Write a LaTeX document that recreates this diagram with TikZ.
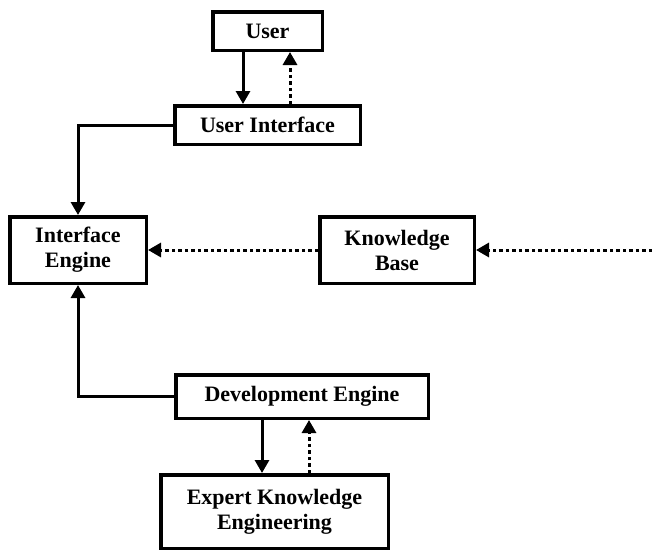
\documentclass[tikz,border=0pt]{standalone}
\usepackage{fontspec}
\setmainfont{Liberation Serif}
\usetikzlibrary{arrows.meta}
\begin{document}
\begin{tikzpicture}[x=1pt,y=-1pt,
  box/.style={draw,line width=3.5pt,rectangle,inner sep=0pt,align=center,
    font=\fontsize{22}{25}\selectfont\bfseries},
  solidarrow/.style={line width=3pt,-{Triangle[length=13pt,width=14pt]}},
  dotarrow/.style={line width=3pt,dash pattern=on 3.5pt off 3pt,-{Triangle[length=13pt,width=14pt]}},
  plainline/.style={line width=3pt}]
\useasboundingbox (0,0) rectangle (652,552);
\node[box,minimum width=109.5pt,minimum height=38.5pt] (user) at (267.5,31) {User};
\node[box,minimum width=185.5pt,minimum height=38.5pt] (ui) at (267.5,125) {User Interface};
\node[box,minimum width=136.5pt,minimum height=66.5pt] (ie) at (78,250) {Interface\\Engine};
\node[box,minimum width=154.5pt,minimum height=66.5pt] (kb) at (397,250) {Knowledge\\Base};
\node[box,minimum width=252.5pt,minimum height=43.5pt] (de) at (302,396.5) {Development Engine};
\node[box,minimum width=227.5pt,minimum height=73.5pt] (ek) at (274.5,511.5) {Expert Knowledge\\Engineering};
\coordinate (rightend) at (652,250);
% user <-> ui
\draw[solidarrow] (243,0 |- user.south) -- (243,0 |- ui.north);
\draw[dotarrow] (290,0 |- ui.north) -- (290,0 |- user.south);
% ui -> ie
\draw[solidarrow] (ui.west) -- (ie.north |- ui.west) -- (ie.north);
% de -> ie
\draw[solidarrow] (de.west) -- (ie.south |- de.west) -- (ie.south);
% kb -> ie
\draw[dotarrow] (kb.west) -- (ie.east);
\draw[dotarrow] (rightend) -- (kb.east);
% de <-> ek
\draw[solidarrow] (262,0 |- de.south) -- (262,0 |- ek.north);
\draw[dotarrow] (309,0 |- ek.north) -- (309,0 |- de.south);
\end{tikzpicture}
\end{document}
